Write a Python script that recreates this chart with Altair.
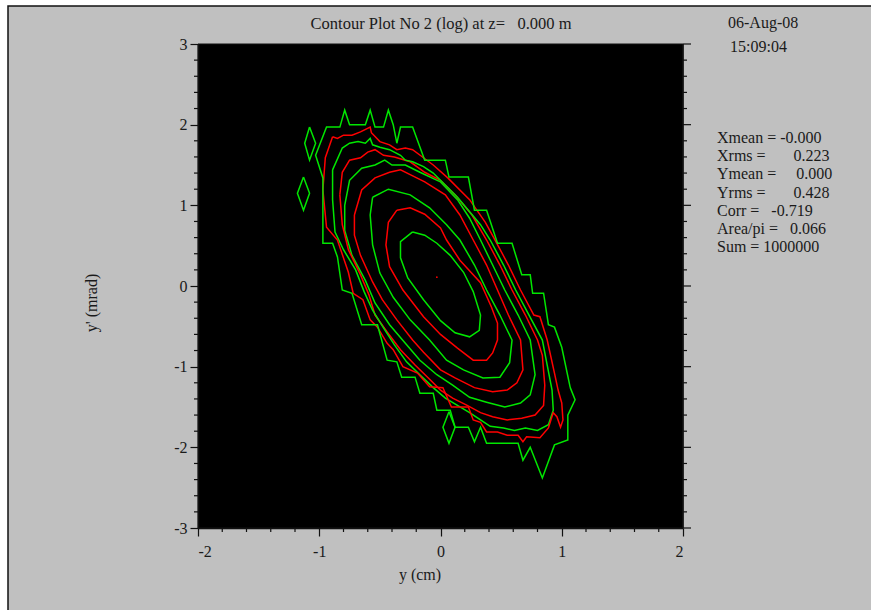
import altair as alt
import pandas as pd

# ---------------- data ----------------
# innermost green
C1_X = [-0.23, -0.13, -0.03, 0.08, 0.19, 0.27, 0.33, 0.32, 0.24, 0.12, 0.00, -0.14, -0.27, -0.33, -0.33]
C1_Y = [0.67, 0.63, 0.53, 0.38, 0.17, -0.07, -0.36, -0.55, -0.63, -0.58, -0.43, -0.17, 0.10, 0.35, 0.55]
# red
C2_X = [-0.36, -0.25, -0.13, 0.00, 0.05, 0.16, 0.33, 0.42, 0.47, 0.47, 0.43, 0.38, 0.27, 0.14, 0.00, -0.14, -0.31, -0.42, -0.45, -0.43]
C2_Y = [0.94, 0.97, 0.89, 0.72, 0.57, 0.32, 0.04, -0.26, -0.46, -0.67, -0.83, -0.92, -0.92, -0.77, -0.60, -0.38, -0.05, 0.24, 0.51, 0.79]
# green
C3_X = [-0.56, -0.43, -0.25, -0.09, 0.05, 0.16, 0.28, 0.38, 0.49, 0.59, 0.57, 0.49, 0.35, 0.19, 0.05, -0.09, -0.25, -0.39, -0.50, -0.56, -0.58]
C3_Y = [1.10, 1.20, 1.13, 0.97, 0.76, 0.57, 0.26, -0.05, -0.36, -0.67, -0.95, -1.13, -1.14, -1.04, -0.92, -0.67, -0.42, -0.14, 0.16, 0.51, 0.88]
# red
C4_X = [-0.71, -0.65, -0.54, -0.42, -0.33, -0.25, -0.13, 0.04, 0.16, 0.27, 0.38, 0.47, 0.56, 0.66, 0.68, 0.63, 0.55, 0.43, 0.28, 0.12, 0.00, -0.14, -0.23, -0.36, -0.48, -0.56, -0.66, -0.71]
C4_Y = [0.88, 1.19, 1.34, 1.41, 1.44, 1.38, 1.29, 1.13, 0.88, 0.57, 0.26, -0.05, -0.36, -0.67, -1.04, -1.20, -1.29, -1.31, -1.26, -1.14, -1.04, -0.82, -0.67, -0.42, -0.17, 0.05, 0.38, 0.63]
# green
C5_X = [-0.79, -0.75, -0.65, -0.54, -0.46, -0.40, -0.29, -0.17, 0.00, 0.14, 0.24, 0.33, 0.43, 0.53, 0.64, 0.74, 0.78, 0.74, 0.66, 0.53, 0.38, 0.24, 0.10, -0.03, -0.17, -0.29, -0.42, -0.54, -0.62, -0.73, -0.79]
C5_Y = [1.00, 1.31, 1.46, 1.50, 1.56, 1.50, 1.50, 1.41, 1.29, 1.07, 0.84, 0.57, 0.26, -0.05, -0.36, -0.67, -1.10, -1.35, -1.45, -1.50, -1.44, -1.38, -1.23, -1.10, -0.92, -0.71, -0.48, -0.21, 0.07, 0.38, 0.69]
# red
C6_X = [-0.83, -0.81, -0.75, -0.66, -0.60, -0.54, -0.47, -0.38, -0.25, -0.13, 0.00, 0.12, 0.26, 0.38, 0.49, 0.59, 0.70, 0.80, 0.84, 0.86, 0.85, 0.78, 0.67, 0.55, 0.43, 0.33, 0.22, 0.10, 0.00, -0.10, -0.21, -0.33, -0.44, -0.54, -0.59, -0.66, -0.76, -0.81]
C6_Y = [1.13, 1.41, 1.56, 1.59, 1.66, 1.69, 1.62, 1.60, 1.54, 1.41, 1.31, 1.13, 0.88, 0.57, 0.26, -0.05, -0.36, -0.67, -0.86, -1.23, -1.48, -1.60, -1.64, -1.66, -1.62, -1.57, -1.48, -1.39, -1.29, -1.14, -0.98, -0.79, -0.57, -0.36, -0.11, 0.14, 0.45, 0.76]
# green
C7_X = [-0.89, -0.81, -0.75, -0.68, -0.62, -0.58, -0.56, -0.50, -0.42, -0.33, -0.29, -0.23, -0.14, -0.06, 0.02, 0.14, 0.24, 0.33, 0.41, 0.52, 0.62, 0.73, 0.84, 0.88, 0.92, 0.93, 0.89, 0.80, 0.70, 0.61, 0.52, 0.41, 0.33, 0.24, 0.14, 0.04, -0.06, -0.17, -0.28, -0.38, -0.47, -0.56, -0.63, -0.70, -0.80, -0.87, -0.89]
C7_Y = [1.44, 1.71, 1.77, 1.79, 1.77, 1.83, 1.75, 1.72, 1.69, 1.62, 1.56, 1.54, 1.48, 1.40, 1.28, 1.10, 0.92, 0.76, 0.57, 0.26, -0.05, -0.36, -0.67, -0.98, -1.29, -1.54, -1.72, -1.79, -1.76, -1.79, -1.76, -1.74, -1.66, -1.57, -1.48, -1.39, -1.26, -1.10, -0.94, -0.73, -0.52, -0.30, -0.07, 0.20, 0.45, 0.67, 1.07]
# red
C8_X = [-0.89, -0.85, -0.80, -0.73, -0.66, -0.58, -0.57, -0.50, -0.42, -0.36, -0.29, -0.23, -0.14, -0.06, 0.06, 0.24, 0.37, 0.45, 0.56, 0.66, 0.77, 0.82, 0.88, 0.94, 0.97, 1.00, 1.01, 0.99, 0.96, 0.93, 0.89, 0.82, 0.71, 0.68, 0.64, 0.55, 0.47, 0.38, 0.33, 0.27, 0.23, 0.09, 0.02, -0.09, -0.19, -0.31, -0.39, -0.44, -0.52, -0.58, -0.64, -0.72, -0.76, -0.85, -0.94, -0.97, -0.95]
C8_Y = [1.85, 1.83, 1.87, 1.87, 1.91, 1.97, 1.90, 1.79, 1.75, 1.69, 1.71, 1.69, 1.59, 1.50, 1.34, 1.07, 0.79, 0.57, 0.26, -0.05, -0.36, -0.38, -0.67, -1.08, -1.29, -1.45, -1.66, -1.75, -1.62, -1.57, -1.76, -1.88, -1.87, -1.93, -1.85, -1.85, -1.81, -1.81, -1.69, -1.66, -1.50, -1.50, -1.26, -1.25, -1.08, -1.00, -0.79, -0.71, -0.51, -0.42, -0.17, -0.09, 0.17, 0.57, 0.73, 1.19, 1.59]
# outermost green
C9_X = [1.07, 1.11, 1.05, 1.05, 0.94, 0.84, 0.74, 0.68, 0.64, 0.38, 0.33, 0.28, 0.23, 0.12, 0.08, -0.03, -0.06, -0.17, -0.21, -0.32, -0.36, -0.44, -0.52, -0.65, -0.73, -0.81, -0.85, -0.89, -0.97, -0.97, -1.03, -0.94, -0.83, -0.79, -0.75, -0.62, -0.58, -0.54, -0.47, -0.43, -0.39, -0.36, -0.33, -0.23, -0.13, 0.04, 0.07, 0.23, 0.28, 0.38, 0.47, 0.59, 0.67, 0.74, 0.76, 0.85, 0.89, 0.94, 1.00]
C9_Y = [-1.26, -1.41, -1.60, -1.91, -1.97, -2.38, -2.00, -2.16, -1.95, -1.95, -1.75, -1.93, -1.75, -1.75, -1.54, -1.54, -1.33, -1.33, -1.13, -1.13, -0.94, -0.92, -0.48, -0.48, -0.09, -0.05, 0.36, 0.53, 0.53, 1.34, 1.62, 1.97, 1.97, 2.18, 2.00, 2.00, 2.18, 1.97, 1.97, 2.18, 2.00, 1.77, 1.97, 1.97, 1.56, 1.56, 1.35, 1.35, 0.94, 0.94, 0.53, 0.53, 0.14, 0.14, -0.09, -0.09, -0.48, -0.51, -0.76]
# small isolated green islands
D1_X = [-1.08, -1.03, -1.08, -1.12]
D1_Y = [1.97, 1.77, 1.56, 1.77]
D2_X = [-1.13, -1.08, -1.13, -1.18]
D2_Y = [1.35, 1.15, 0.94, 1.15]
D3_X = [0.07, 0.12, 0.07, 0.02]
D3_Y = [-1.56, -1.75, -1.95, -1.75]
# centre peak
PEAK_X = [-0.03]
PEAK_Y = [0.11]

CONTOUR_COLORS = ["green", "red", "green", "red", "green", "red", "green", "red", "green", "green", "green", "green"]

X_TICKS = [-2, -1, 0, 1, 2]
Y_TICKS = [-3, -2, -1, 0, 1, 2, 3]
X_MINOR = [-1.8, -1.6, -1.4, -1.2, -0.8, -0.6, -0.4, -0.2, 0.2, 0.4, 0.6, 0.8, 1.2, 1.4, 1.6, 1.8]
Y_MINOR = [-2.8, -2.6, -2.4, -2.2, -1.8, -1.6, -1.4, -1.2, -0.8, -0.6, -0.4, -0.2,
           0.2, 0.4, 0.6, 0.8, 1.2, 1.4, 1.6, 1.8, 2.2, 2.4, 2.6, 2.8]

TITLE = "Contour Plot No 2 (log) at z=\u00a0\u00a0\u00a00.000 m"
X_TITLE = "y (cm)"
Y_TITLE = "y' (mrad)"
DATE = "06-Aug-08"
TIME = "15:09:04"
STAT_NAMES = ["Xmean", "Xrms", "Ymean", "Yrms", "Corr", "Area/pi", "Sum"]
STAT_VALUES = ["-0.000", "0.223", "0.000", "0.428", "-0.719", "0.066", "1000000"]

# ---------------- layout ----------------
W, H = 485, 484
FONT = "Liberation Serif"
TXT = "#1a1a1a"
GREEN = "#00e600"
RED = "#ff0000"
STAT_GAPS = [1, 7, 5, 7, 3, 3, 1]

contours = [(C1_X, C1_Y), (C2_X, C2_Y), (C3_X, C3_Y), (C4_X, C4_Y), (C5_X, C5_Y),
            (C6_X, C6_Y), (C7_X, C7_Y), (C8_X, C8_Y), (C9_X, C9_Y),
            (D1_X, D1_Y), (D2_X, D2_Y), (D3_X, D3_Y)]
rows = []
for cid, ((xs_, ys_), cname) in enumerate(zip(contours, CONTOUR_COLORS)):
    col = GREEN if cname == "green" else RED
    pts = list(zip(xs_, ys_)) + [(xs_[0], ys_[0])]
    for k, (a, b) in enumerate(pts):
        rows.append({"x": a, "y": b, "cid": cid, "ord": k, "col": col})
df = pd.DataFrame(rows)
one = pd.DataFrame({"a": [0]})

xs = alt.Scale(domain=[-2, 2], nice=False, zero=False)
ys = alt.Scale(domain=[-3, 3], nice=False, zero=False)

axis_common = dict(tickSize=8, tickWidth=1.2, tickColor="#111", domainColor="#111",
                   domainWidth=1.5, labelFont=FONT, labelFontSize=16, labelColor=TXT,
                   title=None, grid=False, zindex=1, labelExpr="'' + datum.value")

frame = alt.Chart(one).mark_rect(fill="#c0c0c0", stroke="#111", strokeWidth=1.5).encode(
    x=alt.value(8 - 198), x2=alt.value(900), y=alt.value(6 - 44), y2=alt.value(700))
plotbg = alt.Chart(one).mark_rect(fill="black", stroke="#111", strokeWidth=1).encode(
    x=alt.value(0), x2=alt.value(W), y=alt.value(0), y2=alt.value(H))

lines = alt.Chart(df).mark_line(strokeWidth=1.5, clip=True).encode(
    x=alt.X("x:Q", scale=xs, axis=alt.Axis(values=X_TICKS, labelPadding=7, **axis_common)),
    y=alt.Y("y:Q", scale=ys, axis=alt.Axis(values=Y_TICKS, labelPadding=3, **axis_common)),
    detail="cid:N", order="ord:Q", color=alt.Color("col:N", scale=None))

peak = alt.Chart(pd.DataFrame({"x": PEAK_X, "y": PEAK_Y})).mark_circle(size=3, color=RED, opacity=1).encode(
    x=alt.X("x:Q", scale=xs), y=alt.Y("y:Q", scale=ys))

xminor = alt.Chart(pd.DataFrame({"v": X_MINOR})).mark_rule(color="#111", strokeWidth=1.2).encode(
    x=alt.X("v:Q", scale=xs), y=alt.value(H), y2=alt.value(H + 4))
yminor_l = alt.Chart(pd.DataFrame({"v": Y_MINOR})).mark_rule(color="#111", strokeWidth=1.2).encode(
    y=alt.Y("v:Q", scale=ys), x=alt.value(0), x2=alt.value(-4))
yminor_r = alt.Chart(pd.DataFrame({"v": Y_MINOR})).mark_rule(color="#111", strokeWidth=1.2).encode(
    y=alt.Y("v:Q", scale=ys), x=alt.value(W), x2=alt.value(W + 4))
ymajor_r = alt.Chart(pd.DataFrame({"v": Y_TICKS})).mark_rule(color="#111", strokeWidth=1.2).encode(
    y=alt.Y("v:Q", scale=ys), x=alt.value(W), x2=alt.value(W + 8))
right_line = alt.Chart(one).mark_rule(color="#111", strokeWidth=1.5).encode(
    x=alt.value(W), y=alt.value(0), y2=alt.value(H))


def label(txt, x, y, align="left", angle=0, size=16):
    return alt.Chart(one).mark_text(text=txt, align=align, baseline="middle", font=FONT,
                                    fontSize=size, color=TXT, angle=angle).encode(
        x=alt.value(x), y=alt.value(y))


texts = [
    label(TITLE, 441 - 198, 24 - 44, align="center", size=16.5),
    label(X_TITLE, 420 - 198, 575 - 44, align="center"),
    label(Y_TITLE, 92 - 198, 303 - 44, align="center", angle=270),
    label(DATE, 728 - 198, 23 - 44),
    label(TIME, 730 - 198, 47 - 44),
]
for i, (n, v) in enumerate(zip(STAT_NAMES, STAT_VALUES)):
    s = n + "\u00a0=" + "\u00a0" * STAT_GAPS[i] + v
    texts.append(label(s, 717 - 198, 138 - 44 + 18.2 * i))

chart = alt.layer(frame, plotbg, lines, peak, xminor, yminor_l, yminor_r, ymajor_r, right_line, *texts).properties(
    width=W, height=H,
    autosize=alt.AutoSizeParams(type="none"),
    padding={"left": 198, "top": 44, "right": 871 - 198 - W, "bottom": 610 - 44 - H},
).configure_view(stroke=None).configure(background="white")

chart.save("out.html", embed_options={"renderer": "svg", "actions": False})
